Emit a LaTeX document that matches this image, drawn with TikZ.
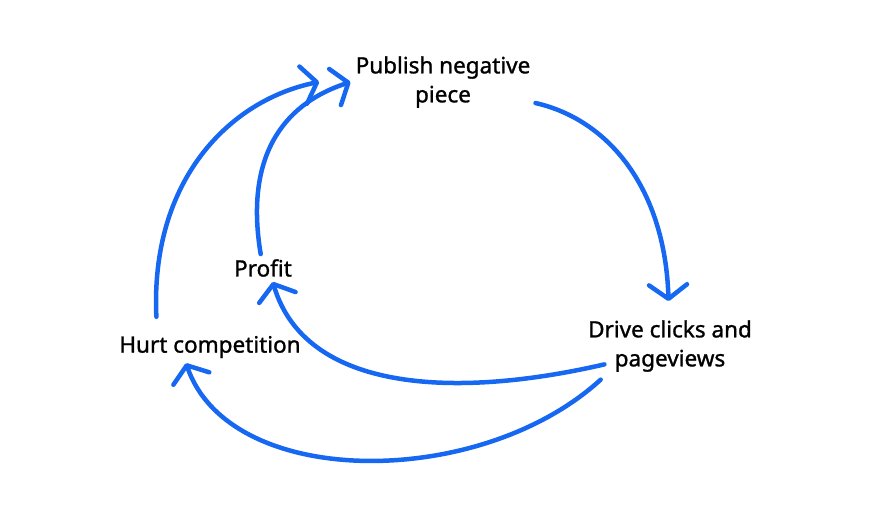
\documentclass[tikz,border=0pt]{standalone}
\usepackage{fontspec}
\setmainfont{Noto Sans}[FakeBold=1.2]
\usetikzlibrary{arrows.meta}
\definecolor{loopblue}{RGB}{22,104,242}

\begin{document}
\begin{tikzpicture}[x=1pt,y=-1pt,
  every node/.style={font=\fontsize{22.5}{29}\selectfont\bfseries, align=center, inner sep=5pt},
  loop/.style={draw=loopblue, line width=4.5pt, line cap=round,
    -{Straight Barb[length=14pt,width=38pt,line width=4.5pt,round]}}]
  \useasboundingbox (0,0) rectangle (887,507);
  \node (0) at (443,82) {Publish negative\\piece};
  \node (1) at (670,346) {Drive clicks and\\pageviews};
  \node (2) at (210,347) {Hurt competition};
  \node (3) at (263,268) {Profit};
  \draw[loop, shorten >=14pt] (0) .. controls (610,120) and (665,190) .. (1);
  \draw[loop, shorten <=-22pt] (1.195) .. controls (450,400) and (305,390) .. (3.305);
  \draw[loop, shorten <=4pt] (1.205) .. controls (480,490) and (230,490) .. (2.214);
  \draw[loop, shorten <=14pt, shorten >=32pt] (2.163) .. controls (150,180) and (230,100) .. (0.176);
  \draw[loop] (3) .. controls (245,160) and (280,105) .. (0.180);
\end{tikzpicture}
\end{document}
